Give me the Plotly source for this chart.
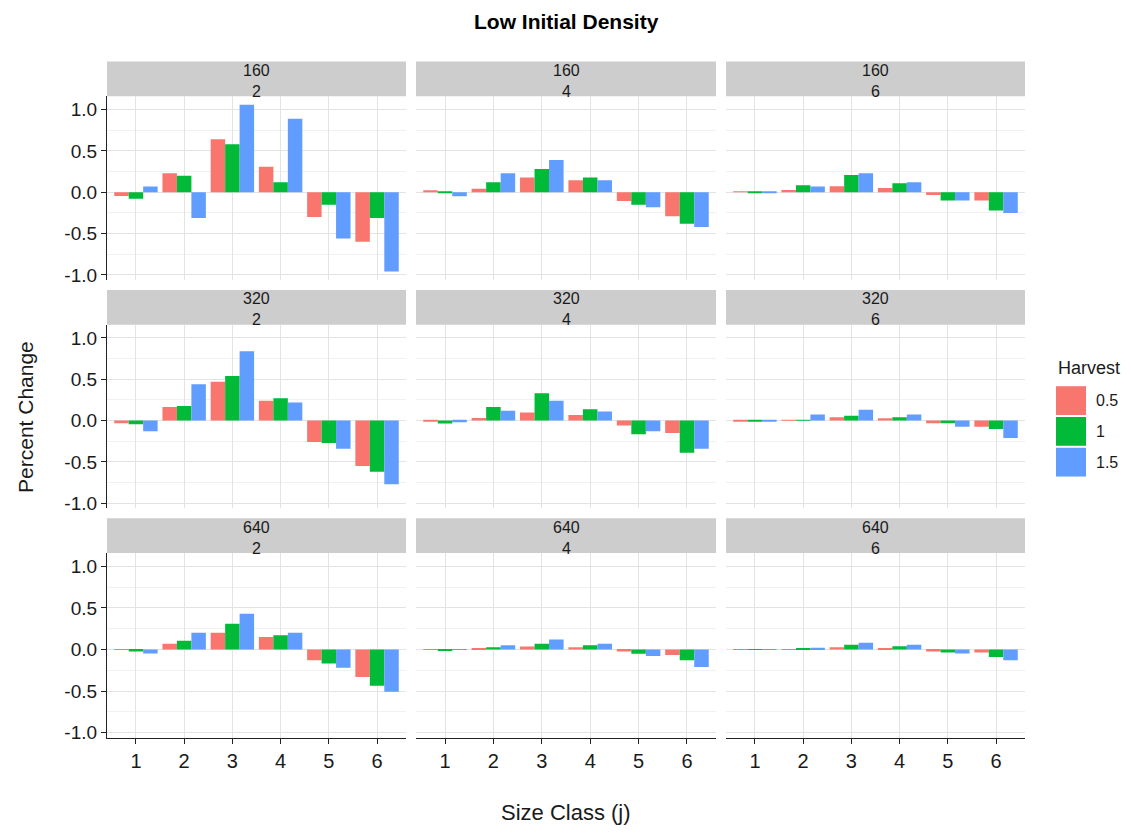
import plotly.graph_objects as go

# Facet values: rows = initial N, columns = interval
row_labels = ["160", "320", "640"]
col_labels = ["2", "4", "6"]
size_classes = [1, 2, 3, 4, 5, 6]
harvest_levels = ["0.5", "1", "1.5"]
harvest_colors = ["#F8766D", "#00BA38", "#619CFF"]

# Percent change per panel (row-major order), one list per harvest level
p160_2 = {
    "0.5": [-0.044, 0.23, 0.64, 0.31, -0.30, -0.60],
    "1":   [-0.077, 0.20, 0.58, 0.12, -0.15, -0.31],
    "1.5": [0.069, -0.31, 1.06, 0.89, -0.56, -0.96],
}
p160_4 = {
    "0.5": [0.012, 0.044, 0.18, 0.145, -0.105, -0.29],
    "1":   [-0.012, 0.12, 0.28, 0.18, -0.15, -0.38],
    "1.5": [-0.048, 0.23, 0.39, 0.145, -0.18, -0.42],
}
p160_6 = {
    "0.5": [0.002, 0.028, 0.073, 0.052, -0.032, -0.10],
    "1":   [-0.008, 0.085, 0.21, 0.11, -0.10, -0.22],
    "1.5": [-0.004, 0.069, 0.23, 0.12, -0.10, -0.25],
}
p320_2 = {
    "0.5": [-0.032, 0.165, 0.47, 0.24, -0.26, -0.55],
    "1":   [-0.044, 0.177, 0.54, 0.27, -0.27, -0.62],
    "1.5": [-0.13, 0.44, 0.84, 0.22, -0.34, -0.77],
}
p320_4 = {
    "0.5": [-0.005, 0.032, 0.097, 0.069, -0.06, -0.15],
    "1":   [-0.036, 0.165, 0.33, 0.137, -0.165, -0.39],
    "1.5": [-0.02, 0.12, 0.24, 0.11, -0.13, -0.34],
}
p320_6 = {
    "0.5": [-0.005, 0.01, 0.04, 0.028, -0.032, -0.073],
    "1":   [-0.005, 0.01, 0.06, 0.04, -0.032, -0.10],
    "1.5": [-0.004, 0.073, 0.13, 0.073, -0.073, -0.21],
}
p640_2 = {
    "0.5": [-0.004, 0.069, 0.20, 0.15, -0.13, -0.33],
    "1":   [-0.024, 0.105, 0.31, 0.17, -0.17, -0.435],
    "1.5": [-0.048, 0.20, 0.43, 0.20, -0.22, -0.51],
}
p640_4 = {
    "0.5": [0.001, 0.012, 0.036, 0.028, -0.024, -0.065],
    "1":   [-0.008, 0.028, 0.069, 0.052, -0.052, -0.13],
    "1.5": [-0.004, 0.052, 0.12, 0.069, -0.077, -0.21],
}
p640_6 = {
    "0.5": [0.001, -0.004, 0.028, 0.012, -0.024, -0.036],
    "1":   [-0.004, 0.008, 0.056, 0.04, -0.036, -0.09],
    "1.5": [-0.002, 0.02, 0.08, 0.056, -0.048, -0.13],
}
panels = [p160_2, p160_4, p160_6,
          p320_2, p320_4, p320_6,
          p640_2, p640_4, p640_6]

y_ticks = [-1.0, -0.5, 0.0, 0.5, 1.0]
y_tick_text = ["-1.0", "-0.5", "0.0", "0.5", "1.0"]

W, H = 1131, 834


def fx(px):
    return px / W


def fy(py):
    return 1 - py / H


# Panel boxes in pixels
col_x = [(107, 406), (416, 716), (726, 1025)]
row_y = [(97, 282), (327, 512), (557, 743)]
STRIP_H = 35

# Shared y scale with 5% padding on both ends
all_vals = [v for p in panels for lvl in harvest_levels for v in p[lvl]]
lo, hi = min(all_vals), max(all_vals)
pad = 0.05 * (hi - lo)
y_range = [lo - pad, hi + pad]

fig = go.Figure()
layout = {}
shapes = []
annotations = []

font_family = "Liberation Sans, Arial, sans-serif"
text_col = "#1a1a1a"

for i, panel in enumerate(panels):
    r, c = divmod(i, 3)
    n = "" if i == 0 else str(i + 1)
    xa, ya = "x" + n, "y" + n
    for lvl, col in zip(harvest_levels, harvest_colors):
        fig.add_trace(go.Bar(
            x=size_classes, y=panel[lvl], name=lvl,
            marker=dict(color=col, line=dict(width=0)),
            xaxis=xa, yaxis=ya, offsetgroup=lvl, showlegend=False,
        ))
    x0, x1 = col_x[c]
    y0, y1 = row_y[r]
    bottom = r == 2
    left = c == 0
    layout["xaxis" + n] = dict(
        domain=[fx(x0), fx(x1)], anchor=ya, range=[0.4, 6.6],
        tickvals=size_classes, ticktext=[str(s) for s in size_classes],
        showticklabels=bottom, ticks="outside" if bottom else "",
        ticklen=5, tickcolor="#222", tickwidth=1,
        showline=bottom, linecolor="#222", linewidth=1.2,
        showgrid=True, gridcolor="#E3E3E3", gridwidth=1,
        zeroline=False, fixedrange=True,
        tickfont=dict(family=font_family, size=20, color=text_col),
    )
    layout["yaxis" + n] = dict(
        domain=[fy(y1), fy(y0)], anchor=xa, range=y_range,
        tickvals=y_ticks, ticktext=y_tick_text,
        showticklabels=left, ticks="outside" if left else "",
        ticklen=5, tickcolor="#222", tickwidth=1,
        showline=left, linecolor="#222", linewidth=1.2,
        showgrid=True, gridcolor="#E3E3E3", gridwidth=1,
        minor=dict(tickvals=[-0.75, -0.25, 0.25, 0.75], showgrid=True,
                   gridcolor="#F1F1F1", gridwidth=1, ticks=""),
        zeroline=False, fixedrange=True,
        tickfont=dict(family=font_family, size=19, color=text_col),
    )
    # facet strip with two-line label
    shapes.append(dict(type="rect", xref="paper", yref="paper",
                       x0=fx(x0), x1=fx(x1), y0=fy(y0), y1=fy(y0 - STRIP_H),
                       fillcolor="#CDCDCD", line=dict(width=0), layer="below"))
    annotations.append(dict(text=row_labels[r] + "<br>" + col_labels[c],
                            xref="paper", yref="paper",
                            x=fx((x0 + x1) / 2), y=fy(y0 - STRIP_H / 2 + 2),
                            showarrow=False, xanchor="center", yanchor="middle",
                            font=dict(family=font_family, size=16, color=text_col)))

# Title and axis titles
annotations.append(dict(text="<b>Low Initial Density</b>", xref="paper", yref="paper",
                        x=fx(566), y=fy(22), showarrow=False, xanchor="center",
                        yanchor="middle",
                        font=dict(family=font_family, size=21, color="#000")))
annotations.append(dict(text="Size Class (j)", xref="paper", yref="paper",
                        x=fx(566), y=fy(818), showarrow=False, xanchor="center",
                        yanchor="middle",
                        font=dict(family=font_family, size=22, color=text_col)))
annotations.append(dict(text="Percent Change", xref="paper", yref="paper",
                        x=fx(26), y=fy(420), showarrow=False, xanchor="center",
                        yanchor="middle", textangle=-90,
                        font=dict(family=font_family, size=21, color=text_col)))

# Legend: title plus one key box per harvest level
annotations.append(dict(text="Harvest", xref="paper", yref="paper",
                        x=fx(1056), y=fy(371), showarrow=False, xanchor="left",
                        yanchor="middle",
                        font=dict(family=font_family, size=18, color=text_col)))
key_top = 389
key_h = 31
for k, (lvl, col) in enumerate(zip(harvest_levels, harvest_colors)):
    t = key_top + k * key_h
    shapes.append(dict(type="rect", xref="paper", yref="paper",
                       x0=fx(1056), x1=fx(1086), y0=fy(t + key_h - 2), y1=fy(t),
                       fillcolor=col, line=dict(width=0)))
    annotations.append(dict(text=lvl, xref="paper", yref="paper",
                            x=fx(1094), y=fy(t + (key_h - 2) / 2), showarrow=False,
                            xanchor="left", yanchor="middle",
                            font=dict(family=font_family, size=16, color=text_col)))

fig.update_layout(
    **layout,
    width=W, height=H,
    margin=dict(l=0, r=0, t=0, b=0),
    paper_bgcolor="white", plot_bgcolor="white",
    barmode="group", bargap=0.1, bargroupgap=0,
    shapes=shapes, annotations=annotations,
    showlegend=False,
    font=dict(family=font_family, color=text_col),
)

fig.write_html("out.html")
